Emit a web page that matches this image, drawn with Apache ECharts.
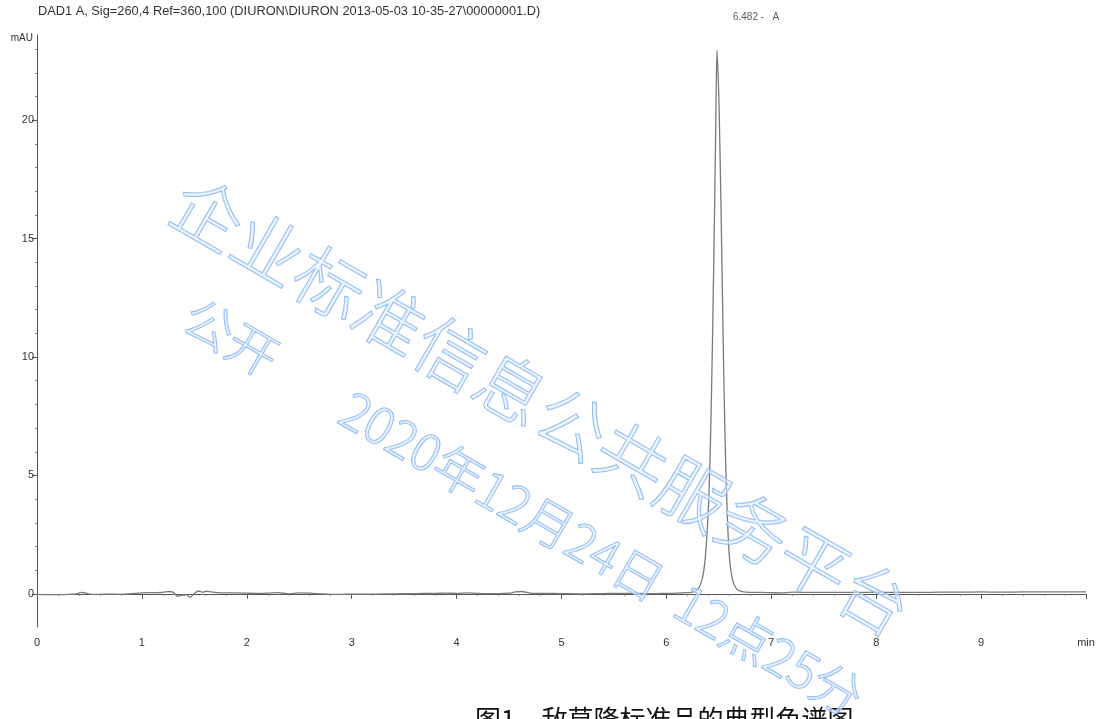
<!DOCTYPE html>
<html>
<head>
<meta charset="utf-8">
<script src="https://cdn.jsdelivr.net/npm/echarts@6/dist/echarts.min.js"></script>
<style>
  html, body { margin: 0; padding: 0; background: #fff; }
  #chart { width: 1098px; height: 719px; }
</style>
</head>
<body>
<div id="chart"></div>
<script>
// Signal trace, DAD1 A at 260 nm: [retention time (min), absorbance (mAU)]
const baselineBefore = [
  [0.00, -0.02], [0.10, -0.03], [0.20, -0.03], [0.30, -0.02], [0.38, 0.00], [0.42, 0.06],
  [0.46, 0.04], [0.50, -0.01], [0.60, -0.02], [0.70, -0.01], [0.80, -0.02], [0.90, 0.01],
  [1.00, 0.04], [1.10, 0.05], [1.20, 0.06], [1.26, 0.10], [1.30, 0.06], [1.34, -0.10],
  [1.38, -0.06], [1.42, -0.03], [1.46, -0.14], [1.50, 0.02], [1.54, 0.12], [1.58, 0.07],
  [1.62, 0.11], [1.66, 0.08], [1.72, 0.05], [1.80, 0.04], [1.90, 0.04], [2.00, 0.03],
  [2.10, 0.02], [2.20, 0.03], [2.30, 0.05], [2.40, 0.00], [2.50, 0.04], [2.60, 0.03],
  [2.70, 0.00], [2.80, -0.02], [2.90, -0.02], [3.00, -0.01], [3.20, -0.01], [3.40, 0.00],
  [3.60, 0.01], [3.80, 0.02], [3.90, 0.03], [4.00, 0.02], [4.10, 0.04], [4.20, 0.02],
  [4.30, 0.01], [4.40, 0.01], [4.50, 0.03], [4.56, 0.08], [4.62, 0.10], [4.68, 0.05],
  [4.74, 0.02], [4.80, 0.02], [5.00, 0.01], [5.20, 0.00], [5.40, 0.01], [5.60, 0.02],
  [5.80, 0.01], [6.00, 0.02], [6.10, 0.03], [6.20, 0.05]
];
const peakA = [
  [6.25, 0.07], [6.30, 0.20], [6.34, 0.60], [6.37, 1.50], [6.40, 3.60], [6.42, 6.40],
  [6.44, 10.9], [6.46, 16.5], [6.47, 19.6], [6.482, 22.95], [6.49, 22.2], [6.50, 21.0],
  [6.52, 16.5], [6.54, 11.0], [6.56, 6.40], [6.58, 3.40], [6.60, 1.60], [6.63, 0.60],
  [6.67, 0.20], [6.72, 0.09]
];
const baselineAfter = [
  [6.80, 0.06], [6.90, 0.06], [7.00, 0.05], [7.10, 0.04], [7.20, 0.07], [7.40, 0.06],
  [7.60, 0.06], [7.80, 0.06], [8.00, 0.07], [8.20, 0.06], [8.40, 0.06], [8.60, 0.07],
  [8.80, 0.07], [9.00, 0.08], [9.20, 0.07], [9.40, 0.08], [9.60, 0.08], [9.80, 0.08],
  [10.00, 0.08]
];
const peakApex = [6.482, 22.95];
const peakLabel = '6.482 -   A';

const yMajorTicks = [0, 5, 10, 15, 20];
const yMinorTicks = [1, 2, 3, 4, 6, 7, 8, 9, 11, 12, 13, 14, 16, 17, 18, 19, 21, 22, 23];

const headerText = 'DAD1 A, Sig=260,4 Ref=360,100 (DIURON\\DIURON 2013-05-03 10-35-27\\00000001.D)';
const yUnit = 'mAU';
const xUnit = 'min';
const caption = '图1　敌草隆标准品的典型色谱图';
const stampLine1 = '企业标准信息公共服务平台';
const stampLine2 = '公开';
const stampLine3 = '2020年12月24日  12点25分';

const trace = baselineBefore.concat(peakA, baselineAfter);

const axisColor = '#555';
const labelFont = { fontFamily: 'Liberation Sans, Arial, sans-serif', fontSize: 11, color: '#333' };

const stampStyle = (text, size) => ({
  text: text,
  fontFamily: '"Noto Sans CJK SC", sans-serif',
  fontWeight: 300,
  fontSize: size,
  fill: 'rgba(225,238,255,0.55)',
  stroke: '#86b6f2',
  lineWidth: 1.3,
  textAlign: 'left',
  textVerticalAlign: 'middle'
});

const chart = echarts.init(document.getElementById('chart'), null, { renderer: 'canvas' });
chart.setOption({
  animation: false,
  backgroundColor: '#fff',
  grid: { left: 37, right: 12, top: 35, bottom: 92, containLabel: false },
  xAxis: {
    type: 'value',
    min: 0,
    max: 10,
    interval: 1,
    axisLine: { show: true, lineStyle: { color: axisColor, width: 1 } },
    axisTick: { show: true, length: 5, lineStyle: { color: axisColor } },
    minorTick: { show: true, splitNumber: 5, length: 2, lineStyle: { color: '#777' } },
    axisLabel: Object.assign({ margin: 10, formatter: (v) => (v === 10 ? xUnit : String(v)) }, labelFont),
    splitLine: { show: false }
  },
  yAxis: [
    {
      type: 'value',
      min: -1.4,
      max: 23.6,
      axisLine: { show: true, lineStyle: { color: axisColor, width: 1 } },
      axisTick: { show: true, length: 5, customValues: yMajorTicks, lineStyle: { color: axisColor } },
      axisLabel: Object.assign({ margin: 3, customValues: yMajorTicks }, labelFont),
      splitLine: { show: false }
    },
    {
      type: 'value',
      min: -1.4,
      max: 23.6,
      position: 'left',
      offset: 0,
      axisLine: { show: false },
      axisTick: { show: true, length: 2, customValues: yMinorTicks, lineStyle: { color: '#888' } },
      axisLabel: { show: false, customValues: yMinorTicks },
      splitLine: { show: false }
    }
  ],
  series: [
    {
      type: 'line',
      data: trace,
      yAxisIndex: 0,
      showSymbol: false,
      smooth: 0.3,
      clip: false,
      lineStyle: { color: '#7a7a7a', width: 1.3 },
      z: 3
    },
    {
      type: 'scatter',
      data: [peakApex],
      yAxisIndex: 0,
      symbolSize: 2,
      itemStyle: { color: 'rgba(0,0,0,0)' },
      label: {
        show: true,
        position: [17, -32],
        align: 'left',
        verticalAlign: 'middle',
        formatter: peakLabel,
        fontFamily: 'Liberation Sans, Arial, sans-serif',
        fontSize: 10,
        color: '#333'
      },
      labelLayout: { hideOverlap: false },
      z: 4
    }
  ],
  graphic: [
    {
      type: 'text', x: 38, y: 5, silent: true,
      style: { text: headerText, fontFamily: 'Liberation Sans, Arial, sans-serif', fontSize: 12.8, fill: '#333' }
    },
    {
      type: 'text', x: 33, y: 38, silent: true,
      style: { text: yUnit, fontFamily: 'Liberation Sans, Arial, sans-serif', fontSize: 10, fill: '#333', textAlign: 'right', textVerticalAlign: 'middle' }
    },
    {
      type: 'text', x: 475, y: 706, silent: true,
      style: { text: caption, fontFamily: '"Noto Sans CJK SC", sans-serif', fontSize: 26, fill: '#111', textAlign: 'left', textVerticalAlign: 'top' }
    },
    {
      type: 'text', x: 178, y: 196, rotation: -Math.PI / 6, silent: true, z: 100,
      style: stampStyle(stampLine1, 70)
    },
    {
      type: 'text', x: 188, y: 312, rotation: -Math.PI / 6, silent: true, z: 100,
      style: stampStyle(stampLine2, 50)
    },
    {
      type: 'text', x: 345, y: 405, rotation: -Math.PI / 6, silent: true, z: 100,
      style: stampStyle(stampLine3, 50)
    }
  ]
});
</script>
</body>
</html>
